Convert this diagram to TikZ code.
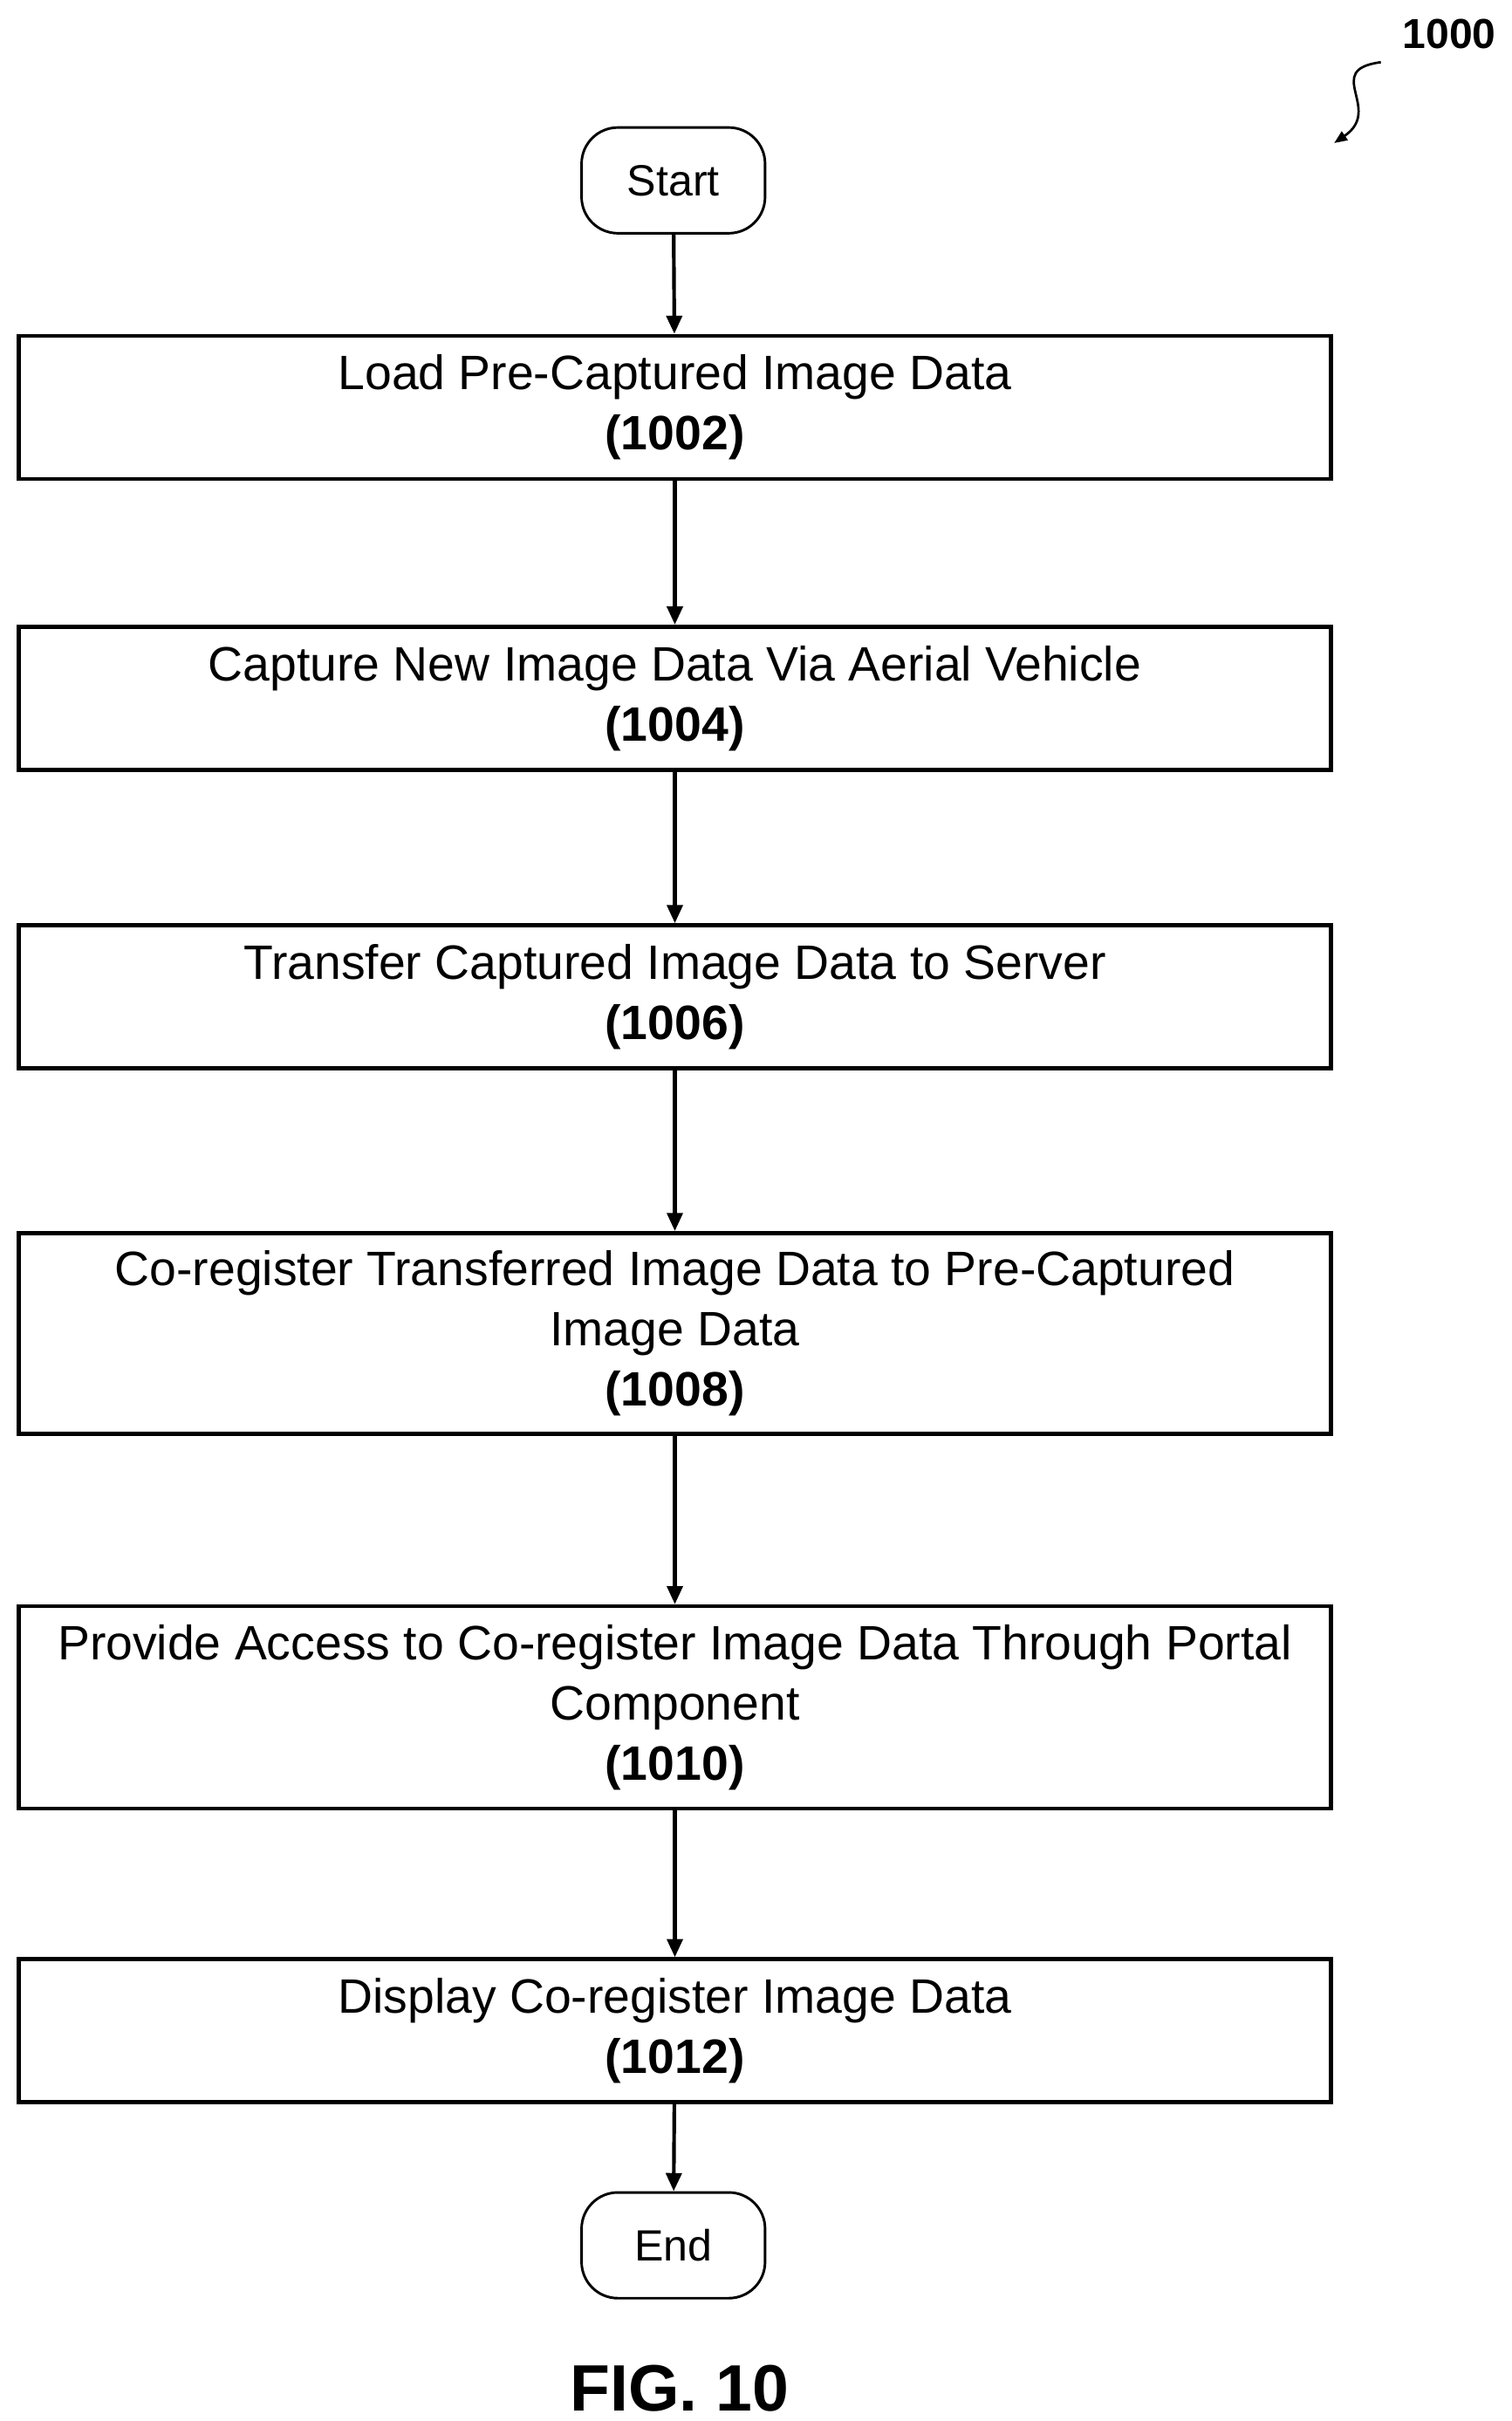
\documentclass[tikz,border=0pt]{standalone}
\usepackage{fontspec}
\setmainfont{Liberation Sans}
\usetikzlibrary{arrows.meta}
\begin{document}
\begin{tikzpicture}[x=0.03cm,y=-0.03cm,
  box/.style={draw,line width=2.2pt,minimum width=844*0.03cm,align=center,font=\fontsize{26.5}{33}\selectfont,inner sep=0pt},
  term/.style={draw,line width=1.4pt,rounded corners=0.7cm,minimum width=118*0.03cm,minimum height=68*0.03cm,font=\fontsize{24}{28}\selectfont},
  arr/.style={line width=2pt,-{Triangle[length=0.35cm,width=0.3cm]}}]
\useasboundingbox (0,0) rectangle (972,1557);
\node[term] (s) at (433,116) {Start};
\node[box,minimum height=92*0.03cm] (b1) at (434,262) {Load Pre-Captured Image Data\\\textbf{(1002)}};
\node[box,minimum height=92*0.03cm] (b2) at (434,449) {Capture New Image Data Via Aerial Vehicle\\\textbf{(1004)}};
\node[box,minimum height=92*0.03cm] (b3) at (434,641) {Transfer Captured Image Data to Server\\\textbf{(1006)}};
\node[box,minimum height=129*0.03cm] (b4) at (434,857.5) {Co-register Transferred Image Data to Pre-Captured\\Image Data\\\textbf{(1008)}};
\node[box,minimum height=130*0.03cm] (b5) at (434,1098) {Provide Access to Co-register Image Data Through Portal\\Component\\\textbf{(1010)}};
\node[box,minimum height=92*0.03cm] (b6) at (434,1306) {Display Co-register Image Data\\\textbf{(1012)}};
\node[term] (e) at (433,1444) {End};
\draw[arr] (s) -- (b1);
\draw[arr] (b1) -- (b2);
\draw[arr] (b2) -- (b3);
\draw[arr] (b3) -- (b4);
\draw[arr] (b4) -- (b5);
\draw[arr] (b5) -- (b6);
\draw[arr] (b6) -- (e);
\node[font=\fontsize{36}{40}\selectfont\bfseries] (fig) at (437,1536) {FIG. 10};
\node[font=\fontsize{23}{28}\selectfont\bfseries] (lbl) at (932,22) {1000};
\coordinate (q1) at (888,40);
\coordinate (q2) at (858,92);
\draw[line width=1.3pt,-{Triangle[length=0.25cm,width=0.2cm]}] (q1) .. controls (850,45) and (890,70) .. (q2);
\end{tikzpicture}
\end{document}
